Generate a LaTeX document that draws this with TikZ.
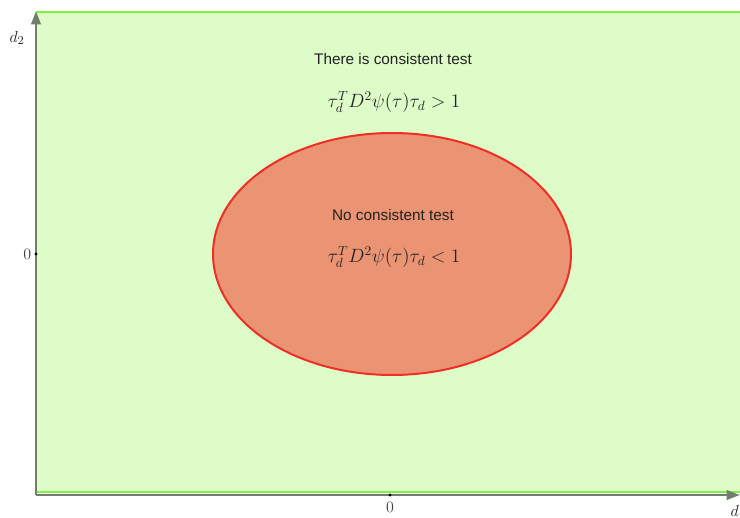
\documentclass[tikz,border=0pt]{standalone}
\usepackage{amsmath}
\usepackage{fontspec}
\setmainfont{Liberation Sans}
\usepackage{tikz}
\usetikzlibrary{arrows.meta}
\definecolor{regiongreen}{RGB}{221,252,200}
\definecolor{edgegreen}{RGB}{128,245,64}
\definecolor{regionred}{RGB}{234,148,115}
\definecolor{edgered}{RGB}{240,46,38}
\definecolor{axisgray}{RGB}{112,126,110}
\definecolor{labelgray}{RGB}{34,34,34}

\begin{document}
\begin{tikzpicture}[x=0.75pt, y=0.75pt, font=\fontsize{11.5}{13}\selectfont, text=labelgray]
		\useasboundingbox (0, 0) rectangle (740, 518);
		% Region where a consistent test exists.
		\fill[regiongreen] (36, 26) rectangle (740, 506);
		\draw[edgegreen, line width=2.2pt] (36, 506) -- (740, 506);
		\draw[edgegreen, line width=2.2pt] (36, 26) -- (740, 26);
		\node (consisttext) at (393, 459) {There is consistent test};
		\node[font=\fontsize{14}{16}\selectfont] (consistformula) at (394, 416)
			{$\tau_d^T D^2 \psi(\tau) \tau_d > 1$};
		% Region with no consistent test.
		\draw[edgered, fill=regionred, line width=1.5pt] (392, 264) ellipse [x radius=179, y radius=121];
		\node (nonetext) at (393, 303) {No consistent test};
		\node[font=\fontsize{14}{16}\selectfont] (noneformula) at (394, 261)
			{$\tau_d^T D^2 \psi(\tau) \tau_d < 1$};
		% Axes.
		\coordinate (origin) at (36, 23);
		\coordinate (xend) at (740, 23);
		\coordinate (yend) at (36, 507);
		\draw[axisgray, line width=2pt, -{Triangle[length=10pt, width=7pt]}] (origin) -- (xend);
		\draw[axisgray, line width=2pt, -{Triangle[length=10pt, width=7pt]}] (origin) -- (yend);
		\fill (36, 264) circle (1.2pt) node[anchor=east, font=\fontsize{13}{15}\selectfont, text=black!75] (yzero) {$0$};
		\fill (390, 23) circle (1.2pt) node[anchor=north, font=\fontsize{13}{15}\selectfont, text=black!75, yshift=-2pt] (xzero) {$0$};
		\node[font=\fontsize{13}{15}\selectfont] (dtwo) at (17, 480) {$d_2$};
		\node[font=\fontsize{13}{15}\selectfont, anchor=west] (done) at (726, 6) {$d_1$};
	\end{tikzpicture}
\end{document}
